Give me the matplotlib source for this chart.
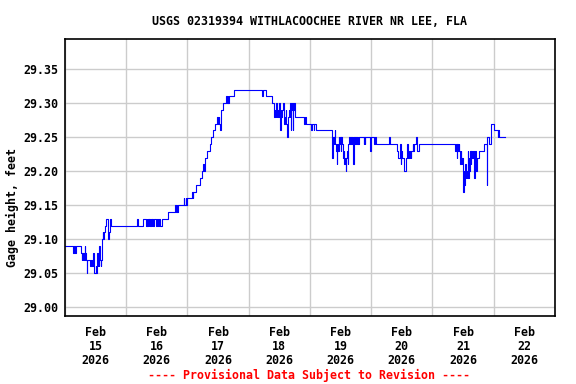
import matplotlib
matplotlib.use('Agg')
import matplotlib.pyplot as plt

# gage height readings, hours since Feb 15 2026 00:00 -> value (held until next change)
hours = [
    0, 3.25, 3.5, 4.0, 4.25, 6.25, 6.5, 6.75, 7.0, 7.25, 7.5, 7.75, 8.0, 8.25, 8.5,
    8.75, 9.75, 10.25, 10.5, 11.0, 11.25, 12.0, 12.25, 12.5, 12.75, 13.0, 13.25,
    13.5, 13.75, 14.0, 14.25, 14.5, 14.75, 15.0, 15.25, 15.5, 16.0, 16.75, 17.0,
    17.25, 17.75, 18.0,
    28.25, 28.5, 30.75, 31.75, 32.0, 32.25, 32.5, 32.75, 33.0, 33.25, 33.75, 34.0,
    34.25, 34.5, 35.0, 35.75, 36.0, 36.5, 36.75, 37.25, 38.0, 40.5, 43.25, 43.5,
    43.75, 44.0, 44.25, 46.5, 46.75, 47.25, 47.5, 47.75,
    49.75, 50.0, 50.25, 51.5, 52.75, 53.5, 54.25, 54.5, 54.75, 55.0, 55.75, 56.75,
    57.25, 58.0, 58.75, 59.5, 60.0, 60.25, 60.5, 60.75, 61.0, 61.75, 63.0, 63.5,
    63.75, 64.0, 64.25, 66.25, 77.25, 77.5, 78.75, 81.25, 81.75,
    82.0, 82.25, 82.5, 82.75, 83.0, 83.25, 83.5, 83.75, 84.25, 84.5, 84.75, 85.0,
    85.5, 85.75, 86.0, 86.25, 86.5, 86.75, 87.0, 87.25, 87.75, 88.0, 88.25, 88.5,
    88.75, 89.0, 89.25, 89.5, 89.75, 90.25, 93.75, 94.0, 94.25, 96.5, 96.75, 97.5,
    97.75, 98.25,
    104.75, 105.0, 105.25, 105.5, 105.75, 106.0, 106.25, 106.5, 106.75, 107.0,
    107.25, 107.5, 107.75, 108.0, 108.25, 108.5, 109.0, 109.25, 109.5, 109.75,
    110.0, 110.25, 110.5, 110.75, 111.0, 111.25, 111.75, 112.0, 112.5, 112.75,
    113.0, 113.25, 113.75, 114.0, 114.5, 114.75, 115.0, 115.25, 117.0, 117.25,
    117.5, 117.75, 119.5, 119.75, 120.25, 121.0, 121.5, 122.0, 127.0, 127.25,
    130.0, 130.5, 131.25, 131.5, 131.75, 132.0, 132.75, 133.5, 133.75, 134.0,
    134.25, 134.75, 135.0, 135.25, 135.5, 135.75, 136.25, 136.5, 136.75, 137.5,
    137.75, 138.0, 138.75,
    153.0, 153.25, 153.5, 153.75, 154.0, 154.25, 154.5, 154.75, 155.0, 155.25,
    155.5, 155.75, 156.0, 156.25, 156.5, 156.75, 157.0, 157.25, 157.5, 157.75,
    158.0, 158.25, 158.5, 158.75, 159.0, 159.25, 159.5, 159.75, 160.25, 160.5,
    161.0, 161.25, 161.5, 162.25, 164.0, 165.25, 165.5, 166.25, 166.75, 168.0,
    169.5, 169.75, 170.0, 172.25,
]
stage = [
    29.09, 29.08, 29.09, 29.08, 29.09, 29.08, 29.07, 29.08, 29.07, 29.08, 29.07,
    29.09, 29.08, 29.07, 29.05, 29.07, 29.06, 29.07, 29.06, 29.08, 29.05, 29.06,
    29.05, 29.08, 29.06, 29.07, 29.06, 29.09, 29.07, 29.06, 29.07, 29.10, 29.11,
    29.10, 29.11, 29.12, 29.13, 29.12, 29.10, 29.11, 29.13, 29.12,
    29.13, 29.12, 29.13, 29.12, 29.13, 29.12, 29.13, 29.12, 29.13, 29.12, 29.13,
    29.12, 29.13, 29.12, 29.13, 29.12, 29.13, 29.12, 29.13, 29.12, 29.13, 29.14,
    29.15, 29.14, 29.15, 29.14, 29.15, 29.16, 29.15, 29.16, 29.15, 29.16,
    29.17, 29.16, 29.17, 29.18, 29.19, 29.20, 29.21, 29.20, 29.21, 29.22, 29.23,
    29.24, 29.25, 29.26, 29.27, 29.28, 29.27, 29.28, 29.27, 29.26, 29.29, 29.30,
    29.31, 29.30, 29.31, 29.30, 29.31, 29.32, 29.31, 29.32, 29.31, 29.30, 29.29,
    29.28, 29.29, 29.28, 29.30, 29.28, 29.29, 29.28, 29.30, 29.26, 29.29, 29.28,
    29.29, 29.30, 29.28, 29.27, 29.28, 29.29, 29.27, 29.25, 29.28, 29.29, 29.28,
    29.30, 29.26, 29.29, 29.30, 29.26, 29.29, 29.30, 29.28, 29.27, 29.28, 29.27,
    29.26, 29.27, 29.26, 29.27, 29.26,
    29.22, 29.25, 29.24, 29.25, 29.26, 29.24, 29.23, 29.21, 29.24, 29.23, 29.25,
    29.24, 29.25, 29.23, 29.25, 29.24, 29.22, 29.23, 29.21, 29.22, 29.20, 29.22,
    29.23, 29.21, 29.24, 29.25, 29.24, 29.25, 29.24, 29.25, 29.21, 29.25, 29.24,
    29.25, 29.24, 29.25, 29.24, 29.25, 29.24, 29.25, 29.24, 29.25, 29.23, 29.25,
    29.25, 29.24, 29.25, 29.24, 29.25, 29.24, 29.23, 29.22, 29.24, 29.21, 29.23,
    29.22, 29.20, 29.21, 29.22, 29.24, 29.22, 29.23, 29.22, 29.23, 29.22, 29.23,
    29.24, 29.23, 29.24, 29.25, 29.24, 29.23, 29.24,
    29.23, 29.24, 29.22, 29.24, 29.23, 29.24, 29.23, 29.21, 29.23, 29.22, 29.21,
    29.22, 29.17, 29.20, 29.18, 29.21, 29.19, 29.20, 29.19, 29.23, 29.19, 29.22,
    29.20, 29.23, 29.21, 29.23, 29.22, 29.23, 29.19, 29.23, 29.21, 29.20, 29.22,
    29.23, 29.24, 29.18, 29.25, 29.24, 29.27, 29.26, 29.25, 29.26, 29.25, 29.25,
]

days = ['15', '16', '17', '18', '19', '20', '21', '22']
yticks = [29.00, 29.05, 29.10, 29.15, 29.20, 29.25, 29.30, 29.35]

font = 'DejaVu Sans Mono'
fs = 8.4

fig = plt.figure(figsize=(5.76, 3.84), dpi=100)
ax = fig.add_axes([0.1128, 0.1771, 0.8507, 0.7206])

ax.plot(hours, stage, color='#0000ff', linewidth=0.8, drawstyle='steps-post')

ax.set_xlim(0, 192)
ax.set_ylim(28.987, 29.394)

ax.set_xticks([24 * i for i in range(9)])
ax.set_xticklabels([])
ax.set_xticks([12 + 24 * i for i in range(len(days))], minor=True)
ax.set_xticklabels(['Feb\n%s\n2026' % d for d in days], minor=True,
                   fontfamily=font, fontweight='bold', fontsize=fs, linespacing=1.1)
ax.set_yticks(yticks)
ax.set_yticklabels(['%.2f' % v for v in yticks],
                   fontfamily=font, fontweight='bold', fontsize=fs)
ax.tick_params(axis='both', which='both', length=0)
ax.tick_params(axis='x', which='minor', pad=7)
ax.tick_params(axis='y', pad=5)

ax.grid(True, which='major', color='#cccccc', linewidth=1.0)
ax.set_axisbelow(True)
for s in ax.spines.values():
    s.set_linewidth(1.2)
    s.set_color('black')

fig.text(0.538, 0.943, 'USGS 02319394 WITHLACOOCHEE RIVER NR LEE, FLA',
         ha='center', va='center', fontfamily=font, fontweight='bold', fontsize=fs)
fig.text(0.021, 0.46, 'Gage height, feet', rotation=90, ha='center', va='center',
         fontfamily=font, fontweight='bold', fontsize=fs)
fig.text(0.5356, 0.0234, '---- Provisional Data Subject to Revision ----',
         ha='center', va='center', color='red',
         fontfamily=font, fontweight='bold', fontsize=fs)

plt.savefig('out.png', dpi=100)
